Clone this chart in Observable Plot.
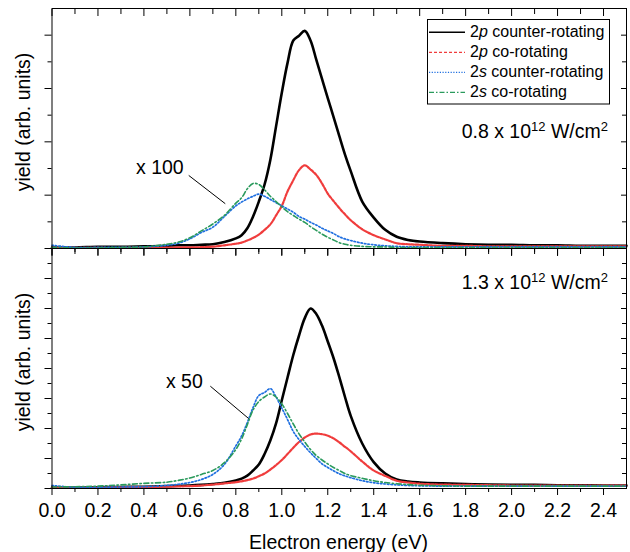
<!DOCTYPE html>
<html><head><meta charset="utf-8">
<script src="https://cdn.jsdelivr.net/npm/d3@7"></script>
<script src="https://cdn.jsdelivr.net/npm/@observablehq/plot@0.6"></script>
<style>
html,body{margin:0;padding:0;background:#fff;}
#chart{position:relative;width:630px;height:552px;background:#fff;font-family:"Liberation Sans",Arial,sans-serif;}
#chart svg{position:absolute;left:0;}
</style></head><body><div id="chart"></div>
<script>
// ---- data (electron energy in eV, yields in arbitrary units) ----
const energy = [0, 0.1, 0.2, 0.3, 0.4, 0.5, 0.55, 0.6, 0.65, 0.7, 0.75, 0.8, 0.825, 0.85, 0.875, 0.9, 0.925, 0.95, 0.975, 1.0, 1.025, 1.05, 1.075, 1.1, 1.125, 1.15, 1.175, 1.2, 1.225, 1.25, 1.275, 1.3, 1.35, 1.4, 1.45, 1.5, 1.55, 1.6, 1.7, 1.8, 1.9, 2.0, 2.1, 2.2, 2.3, 2.4, 2.5];

// top panel: 0.8 x 10^12 W/cm^2 (2s curves x 100)
const top2pCounter = [0.02,0.02,0.03,0.03,0.04, 0.05,0.06,0.06,0.07,0.08,0.12,0.19, 0.25,0.38,0.6,0.88,1.2,1.66,2.29,2.92, 3.48,3.9,3.99,4.08,3.9,3.54,3.18,2.82, 2.47,2.11,1.76,1.45, 0.88,0.58,0.35,0.22,0.16,0.13, 0.1,0.08,0.07,0.07,0.06,0.06,0.05,0.05,0.05];
const top2pCo = [0.01,0.01,0.01,0.01,0.015, 0.015,0.02,0.02,0.025,0.035,0.06,0.09, 0.11,0.15,0.2,0.26,0.35,0.45,0.62,0.8, 1.07,1.28,1.47,1.56,1.48,1.38,1.22,1.03, 0.89,0.76,0.64,0.53, 0.36,0.25,0.17,0.1,0.08,0.07, 0.05,0.05,0.04,0.04,0.04,0.04,0.04,0.04,0.04];
const top2sCounter = [0.06,0.02,0.02,0.02,0.03, 0.06,0.1,0.18,0.3,0.4,0.6,0.8, 0.87,0.93,0.98,1.02,0.98,0.92,0.86,0.8, 0.74,0.68,0.6,0.55,0.49,0.44,0.38,0.33, 0.28,0.22,0.18,0.15, 0.1,0.07,0.05,0.04,0.03,0.03, 0.03,0.03,0.03,0.03,0.03,0.03,0.03,0.03,0.03];
const top2sCo = [0.02,0.01,0.01,0.02,0.03, 0.08,0.12,0.2,0.33,0.46,0.62,0.85, 0.95,1.12,1.22,1.2,1.1,0.98,0.88,0.78, 0.69,0.62,0.55,0.49,0.41,0.34,0.27,0.21, 0.16,0.11,0.08,0.06, 0.04,0.03,0.03,0.02,0.02,0.02, 0.02,0.02,0.02,0.02,0.02,0.02,0.02,0.02,0.02];

// bottom panel: 1.3 x 10^12 W/cm^2 (2s curves x 50)
const bot2pCounter = [0.03,0.03,0.04,0.05,0.06, 0.08,0.09,0.1,0.12,0.15,0.19,0.27, 0.33,0.43,0.6,0.8,1.15,1.6,2.17,2.94, 3.7,4.45,5.1,5.68,6.0,5.82,5.43,4.9, 4.35,3.72,3.05,2.42, 1.5,0.88,0.5,0.3,0.23,0.2, 0.17,0.15,0.13,0.12,0.12,0.11,0.11,0.1,0.1];
const bot2pCo = [0.03,0.03,0.03,0.04,0.05, 0.06,0.07,0.08,0.1,0.13,0.17,0.21, 0.24,0.28,0.33,0.41,0.5,0.63,0.78,0.95, 1.15,1.36,1.55,1.7,1.8,1.83,1.81,1.76, 1.67,1.54,1.39,1.24, 0.9,0.6,0.42,0.26,0.2,0.16, 0.13,0.12,0.11,0.1,0.1,0.1,0.1,0.1,0.1];
const bot2sCounter = [0.1,0.04,0.04,0.05,0.06, 0.1,0.14,0.2,0.3,0.47,0.8,1.42, 1.75,2.2,2.7,3.1,3.2,3.33,3.05,2.68, 2.3,1.9,1.63,1.4,1.19,1.0,0.82,0.7, 0.59,0.49,0.42,0.36, 0.26,0.19,0.15,0.12,0.1,0.09, 0.08,0.08,0.08,0.08,0.08,0.08,0.08,0.08,0.08];
const bot2sCo = [0.05,0.06,0.08,0.12,0.17, 0.21,0.27,0.35,0.47,0.6,0.86,1.3, 1.65,2.13,2.62,2.9,3.05,3.15,3.05,2.82, 2.5,2.15,1.82,1.55,1.3,1.1,0.95,0.82, 0.7,0.6,0.5,0.43, 0.34,0.26,0.2,0.16,0.13,0.11, 0.09,0.08,0.08,0.08,0.08,0.08,0.08,0.08,0.08];

// axes / ticks
const xMajor = [0, 0.2, 0.4, 0.6, 0.8, 1.0, 1.2, 1.4, 1.6, 1.8, 2.0, 2.2, 2.4];
const xMinor = [0.1, 0.3, 0.5, 0.7, 0.9, 1.1, 1.3, 1.5, 1.7, 1.9, 2.1, 2.3];
const topYMajor = [0, 1, 2, 3, 4];
const topYMinor = [0.5, 1.5, 2.5, 3.5];
const botYMajor = [0, 1, 2, 3, 4, 5, 6, 7];
const botYMinor = [0.5, 1.5, 2.5, 3.5, 4.5, 5.5, 6.5, 7.5];
const topYDomain = [0, 4.5];
const botYDomain = [0, 8];

// annotations: [text], [x, y] and leader [x1, y1, x2, y2] in data units
const topNote = ["x 100"];
const topNotePos = [0.573, 1.52];
const topLeader = [0.595, 1.37, 0.754, 0.84];
const botNote = ["x 50"];
const botNotePos = [0.656, 3.55];
const botLeader = [0.689, 3.41, 0.856, 2.33];

const seriesNames = ["2p counter-rotating", "2p co-rotating", "2s counter-rotating", "2s co-rotating"];
const seriesColors = ["#000000", "#f03c3c", "#1f6fe0", "#2a9a5c"];
const seriesDash = [null, "3,1.5", "1.5,2", "5,2.5,1.5,2.5"];
const legendDash = [null, "3,2", "1.2,1.5", "5,2,1.5,2"];
const seriesWidth = [2.6, 2.2, 1.7, 1.6];

const FONT = "'Liberation Sans', Arial, Helvetica, sans-serif";
const blank = () => "";

function panel({height, marginTop, marginBottom, yDomain, yMajor, yMinor, values, note, notePos, leader, xLabels}) {
  const lines = values.map((v, i) => Plot.lineY(v, {
    x: energy, stroke: seriesColors[i], strokeWidth: seriesWidth[i],
    strokeDasharray: seriesDash[i], curve: "catmull-rom"
  }));
  return Plot.plot({
    width: 630, height, marginLeft: 51.5, marginRight: 4, marginTop, marginBottom,
    x: {domain: [0, 2.5]},
    y: {domain: yDomain},
    style: {fontFamily: FONT, fontSize: "19.5px", background: "transparent", overflow: "visible", color: "#000"},
    marks: [
      ...lines,
      Plot.link([0], {x1: [leader[0]], y1: [leader[1]], x2: [leader[2]], y2: [leader[3]], stroke: "#000", strokeWidth: 1}),
      Plot.text(note, {x: [notePos[0]], y: [notePos[1]], text: d => d, textAnchor: "end", fontSize: 19.5, fill: "#000"}),
      Plot.axisX({anchor: "bottom", ticks: xMajor, tickSize: 7, tickPadding: 7.5, tickFormat: xLabels ? d3.format(".1f") : blank, label: null}),
      Plot.axisX({anchor: "bottom", ticks: xMinor, tickSize: 4, tickFormat: blank, label: null}),
      Plot.axisX({anchor: "top", ticks: xMajor, tickSize: 7, dy: 7, tickFormat: blank, label: null}),
      Plot.axisX({anchor: "top", ticks: xMinor, tickSize: 5, dy: 5, tickFormat: blank, label: null}),
      Plot.axisY({anchor: "left", ticks: yMajor, tickSize: 7, tickFormat: blank, label: null}),
      Plot.axisY({anchor: "left", ticks: yMinor, tickSize: 4, tickFormat: blank, label: null}),
      Plot.axisY({anchor: "right", ticks: yMajor, tickSize: 6, dx: -6, tickFormat: blank, label: null}),
      Plot.axisY({anchor: "right", ticks: yMinor, tickSize: 5, dx: -5, tickFormat: blank, label: null}),
      Plot.frame({stroke: "#000", strokeWidth: 1})
    ]
  });
}

const chart = document.getElementById("chart");

const topPlot = panel({height: 248, marginTop: 8, marginBottom: 0, yDomain: topYDomain, yMajor: topYMajor, yMinor: topYMinor,
  values: [top2pCounter, top2pCo, top2sCounter, top2sCo], note: topNote, notePos: topNotePos, leader: topLeader, xLabels: false});
topPlot.style.top = "0px";
chart.appendChild(topPlot);

const botPlot = panel({height: 304, marginTop: 0, marginBottom: 64, yDomain: botYDomain, yMajor: botYMajor, yMinor: botYMinor,
  values: [bot2pCounter, bot2pCo, bot2sCounter, bot2sCo], note: botNote, notePos: botNotePos, leader: botLeader, xLabels: true});
botPlot.style.top = "248px";
chart.appendChild(botPlot);

// ---- overlay: axis titles, intensity labels, legend ----
const ov = d3.select(chart).append("svg")
  .attr("width", 630).attr("height", 552)
  .style("top", "0px").style("pointer-events", "none")
  .attr("font-family", FONT).attr("fill", "#000");

const yTitle = "yield (arb. units)";
[122, 362].forEach(cy => {
  ov.append("text").attr("transform", `translate(30,${cy}) rotate(-90)`)
    .attr("text-anchor", "middle").attr("font-size", 19.5).text(yTitle);
});
ov.append("text").attr("x", 338.5).attr("y", 549).attr("text-anchor", "middle")
  .attr("font-size", 19.5).text("Electron energy (eV)");

const intensities = [["0.8", 138.3], ["1.3", 289]];
intensities.forEach(([v, y]) => {
  const t = ov.append("text").attr("x", 608).attr("y", y).attr("text-anchor", "end").attr("font-size", 19.5);
  t.append("tspan").text(`${v} x 10`);
  t.append("tspan").attr("dy", -7.5).attr("font-size", 13).text("12");
  t.append("tspan").attr("dy", 7.5).text(" W/cm");
  t.append("tspan").attr("dy", -7.5).attr("font-size", 13).text("2");
});

// legend
const lg = ov.append("g");
lg.append("rect").attr("x", 427.5).attr("y", 19.5).attr("width", 182).attr("height", 84.5)
  .attr("fill", "#fff").attr("stroke", "#000").attr("stroke-width", 1);
seriesNames.forEach((name, i) => {
  const cy = 32.3 + i * 20;
  lg.append("line").attr("x1", 429).attr("x2", 465).attr("y1", cy).attr("y2", cy)
    .attr("stroke", seriesColors[i]).attr("stroke-width", i === 0 ? 1.6 : 1.3)
    .attr("stroke-dasharray", legendDash[i]);
  const t = lg.append("text").attr("x", 470).attr("y", cy + 4.8).attr("font-size", 16);
  const [orb, ...rest] = name.split(" ");
  t.append("tspan").text(orb[0]);
  t.append("tspan").attr("font-style", "italic").text(orb.slice(1));
  t.append("tspan").text(" " + rest.join(" "));
});
</script></body></html>
